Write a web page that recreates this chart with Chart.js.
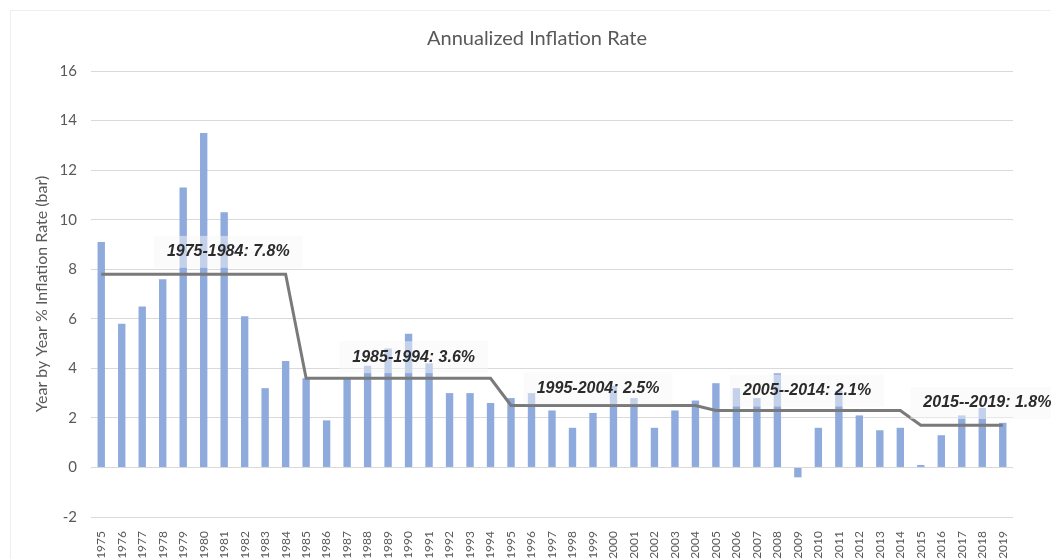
<!DOCTYPE html>
<html>
<head>
<meta charset="utf-8">
<script src="https://cdn.jsdelivr.net/npm/chart.js@4/dist/chart.umd.min.js"></script>
<style>
    html, body { margin: 0; padding: 0; background: #fff; }
    #wrap { width: 1051px; height: 559px; position: relative; }
</style>
</head>
<body>
<div id="wrap"><canvas id="inflation-chart"></canvas></div>
<script>
(function () {
    'use strict';

    var years = [];
    for (var yr = 1975; yr <= 2019; yr++) years.push(String(yr));

    // yearly % inflation (bars)
    var inflation = [
        9.1, 5.8, 6.5, 7.6, 11.3, 13.5, 10.3, 6.1, 3.2, 4.3,
        3.6, 1.9, 3.6, 4.1, 4.8, 5.4, 4.2, 3.0, 3.0, 2.6,
        2.8, 3.0, 2.3, 1.6, 2.2, 3.3, 2.8, 1.6, 2.3, 2.7,
        3.4, 3.2, 2.8, 3.8, -0.4, 1.6, 3.1, 2.1, 1.5, 1.6,
        0.1, 1.3, 2.1, 2.4, 1.8
    ];

    // period averages (step line)
    var periodStart = [1975, 1985, 1995, 2005, 2015];
    var periodAvg = [7.8, 3.6, 2.5, 2.3, 1.7];
    var periodText = [
        '1975-1984: 7.8%',
        '1985-1994: 3.6%',
        '1995-2004: 2.5%',
        '2005--2014: 2.1%',
        '2015--2019: 1.8%'
    ];

    var yTicks = [-2, 0, 2, 4, 6, 8, 10, 12, 14, 16];

    var avgLine = years.map(function (y) {
        var v = null;
        periodStart.forEach(function (s, i) {
            if (+y >= s) v = periodAvg[i];
        });
        return v;
    });

    // where the period labels sit (category position, value)
    var labelAt = [
        { x: 1981.2, y: 8.7 },
        { x: 1990.25, y: 4.45 },
        { x: 1999.25, y: 3.2 },
        { x: 2009.45, y: 3.1 },
        { x: 2018.25, y: 2.6 }
    ];

    var periodLabels = {
        id: 'periodLabels',
        afterDatasetsDraw: function (chart) {
            var ctx = chart.ctx;
            var xs = chart.scales.x, ys = chart.scales.y;
            ctx.save();
            ctx.font = 'italic bold 16px "Liberation Sans", Arial, sans-serif';
            ctx.textAlign = 'center';
            ctx.textBaseline = 'middle';
            periodText.forEach(function (text, i) {
                var cx = xs.getPixelForValue(labelAt[i].x - periodStart[0]);
                var cy = ys.getPixelForValue(labelAt[i].y);
                var w = ctx.measureText(text).width + 26;
                var h = 32;
                ctx.fillStyle = 'rgba(248, 248, 248, 0.5)';
                ctx.fillRect(cx - w / 2, cy - h / 2, w, h);
                ctx.fillStyle = '#2b2b2b';
                ctx.fillText(text, cx, cy);
            });
            ctx.restore();
        }
    };

    var frame = {
        id: 'frame',
        beforeDraw: function (chart) {
            var ctx = chart.ctx;
            ctx.save();
            ctx.strokeStyle = '#eeeeee';
            ctx.lineWidth = 1;
            ctx.beginPath();
            ctx.moveTo(10.5, chart.height);
            ctx.lineTo(10.5, 10.5);
            ctx.lineTo(chart.width, 10.5);
            ctx.stroke();
            ctx.restore();
        }
    };

    Chart.defaults.font.family = 'Lato, "Open Sans", sans-serif';

    new Chart(document.getElementById('inflation-chart'), {
        data: {
            labels: years,
            datasets: [
                {
                    type: 'line',
                    label: 'Period average',
                    data: avgLine,
                    borderColor: '#7a7a7a',
                    borderWidth: 3,
                    pointRadius: 0,
                    tension: 0,
                    order: 0
                },
                {
                    type: 'bar',
                    label: 'Inflation',
                    data: inflation,
                    backgroundColor: '#8faadc',
                    barPercentage: 0.36,
                    categoryPercentage: 1.0,
                    order: 1
                }
            ]
        },
        options: {
            responsive: true,
            maintainAspectRatio: false,
            animation: false,
            layout: {
                // left/right split keeps the title centred like the original
                padding: { left: 61, right: 38, top: 0, bottom: 0 }
            },
            plugins: {
                legend: { display: false },
                tooltip: { enabled: false },
                title: {
                    display: true,
                    text: 'Annualized Inflation Rate',
                    color: '#595959',
                    font: { size: 20, weight: 'normal' },
                    padding: { top: 27, bottom: 20 }
                }
            },
            scales: {
                x: {
                    grid: { display: false },
                    border: { display: false },
                    ticks: {
                        color: '#595959',
                        font: { size: 12 },
                        minRotation: 90,
                        maxRotation: 90,
                        autoSkip: false,
                        padding: 6
                    },
                    afterFit: function (s) { s.height = 42; }
                },
                y: {
                    min: -2,
                    max: 16,
                    afterBuildTicks: function (s) {
                        s.ticks = yTicks.map(function (v) { return { value: v }; });
                    },
                    ticks: {
                        color: '#595959',
                        font: { size: 15 },
                        padding: 14
                    },
                    grid: { color: '#d9d9d9', drawTicks: false },
                    border: { display: false },
                    title: {
                        display: true,
                        text: 'Year by Year % Inflation Rate (bar)',
                        color: '#595959',
                        font: { size: 16 },
                        padding: { top: -29, bottom: 0 }
                    },
                    afterFit: function (s) { s.width = 30; }
                }
            }
        },
        plugins: [frame, periodLabels]
    });
})();
</script>
</body>
</html>
